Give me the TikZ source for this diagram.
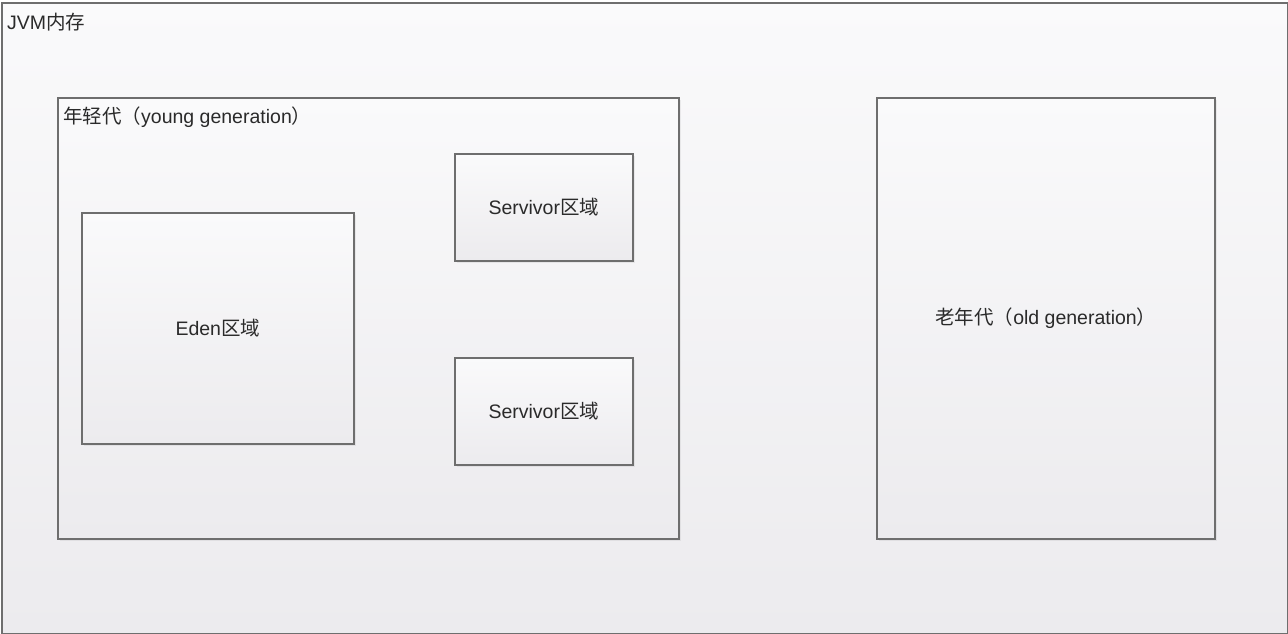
\documentclass[tikz,border=0pt]{standalone}
\usepackage{fontspec}
\setmainfont{Liberation Sans}
\newfontfamily\cjk{Noto Sans CJK SC}
\usetikzlibrary{positioning,shadows}

\definecolor{boxtop}{HTML}{FAFAFB}
\definecolor{boxbot}{HTML}{ECEBEE}
\definecolor{boxline}{HTML}{6E6E6E}
\definecolor{boxtext}{HTML}{2A2A2A}

\begin{document}
\begin{tikzpicture}
  [
   x=1pt,y=-1pt,
   font=\fontsize{19.5}{22}\selectfont,
   text=boxtext,
   area/.style={rectangle,draw=boxline,line width=1.6pt,top color=boxtop,bottom color=boxbot,
                drop shadow={opacity=0.12,shadow xshift=2pt,shadow yshift=-2pt},
                inner sep=0pt,anchor=north west},
   tag/.style={anchor=north west,inner sep=0pt}
  ]
   \useasboundingbox (0,0) rectangle (1288,634);
   % JVM memory
   \node[area,minimum width=1286pt,minimum height=631pt] (jvm) at (1,2) {};
   \node[tag] (jvmtag) at (7,13) {JVM{\cjk 内存}};

   % young generation
   \node[area,minimum width=621pt,minimum height=441pt] (young) at (57,97) {};
   \node[tag] (youngtag) at (63,107) {{\cjk 年轻代（}young generation{\cjk ）}};
   \node[area,minimum width=272pt,minimum height=231pt] (eden) at (81,212) {};
   \node (edentag) at (eden.center) {Eden{\cjk 区域}};
   \node[area,minimum width=178pt,minimum height=107pt] (s1) at (454,153) {};
   \node (s1tag) at (s1.center) {Servivor{\cjk 区域}};
   \node[area,minimum width=178pt,minimum height=107pt] (s2) at (454,357) {};
   \node (s2tag) at (s2.center) {Servivor{\cjk 区域}};

   % old generation
   \node[area,minimum width=338pt,minimum height=441pt] (old) at (876,97) {};
   \node (oldtag) at (old.center) {{\cjk 老年代（}old generation{\cjk ）}};

\end{tikzpicture}
\end{document}
